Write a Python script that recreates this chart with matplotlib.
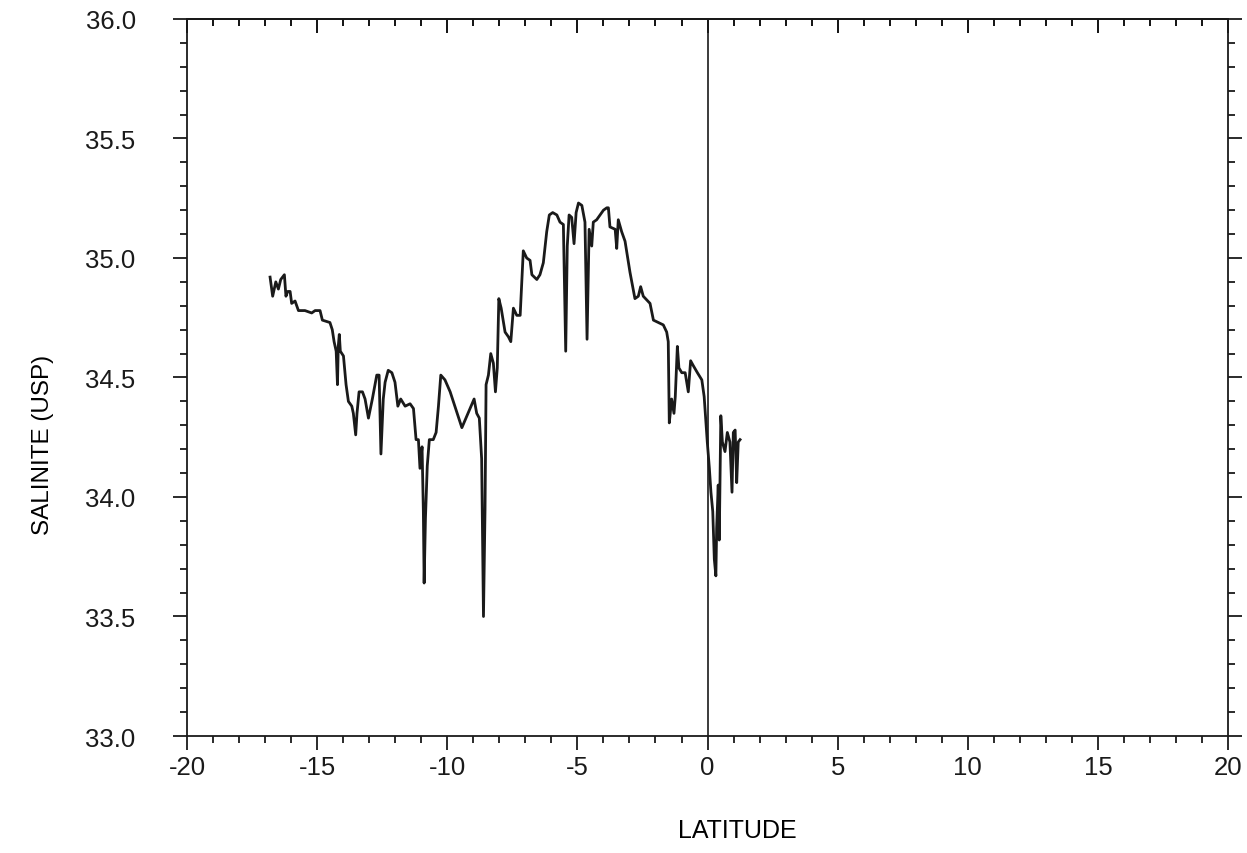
import numpy as np
import matplotlib
matplotlib.use("Agg")
import matplotlib.pyplot as plt
from matplotlib.ticker import MultipleLocator

plt.rcParams['font.family'] = ['Liberation Sans', 'DejaVu Sans']
plt.rcParams['axes.unicode_minus'] = False

# latitude / salinity trace
lat = [-16.81, -16.71, -16.59, -16.49, -16.40, -16.26, -16.20, -16.13, -16.04, -15.98,
       -15.85, -15.72, -15.47, -15.21, -15.08, -14.89, -14.80, -14.51, -14.42, -14.35,
       -14.27, -14.22, -14.19, -14.15, -14.11, -13.99, -13.89, -13.80, -13.67, -13.61,
       -13.52, -13.47, -13.39, -13.26, -13.16, -13.03, -12.88, -12.71, -12.62, -12.55,
       -12.46, -12.39, -12.27, -12.13, -12.01, -11.90, -11.79, -11.62, -11.43, -11.30,
       -11.20, -11.11, -11.05, -10.97, -10.92, -10.89, -10.84, -10.77, -10.69, -10.54,
       -10.43, -10.34, -10.25, -10.09, -9.89, -9.44, -8.97, -8.87, -8.77, -8.68,
       -8.61, -8.55, -8.51, -8.42, -8.33, -8.23, -8.15, -8.08, -8.02, -7.93,
       -7.78, -7.65, -7.56, -7.46, -7.33, -7.20, -7.08, -6.95, -6.82, -6.75,
       -6.56, -6.44, -6.31, -6.18, -6.08, -5.95, -5.79, -5.67, -5.54, -5.45,
       -5.39, -5.32, -5.22, -5.13, -5.05, -4.96, -4.83, -4.71, -4.63, -4.55,
       -4.45, -4.39, -4.26, -4.13, -4.00, -3.87, -3.81, -3.75, -3.55, -3.49,
       -3.43, -3.30, -3.17, -2.98, -2.79, -2.66, -2.57, -2.47, -2.21, -2.08,
       -1.89, -1.70, -1.57, -1.51, -1.47, -1.38, -1.29, -1.24, -1.16, -1.10,
       -0.99, -0.86, -0.74, -0.65, -0.55, -0.39, -0.22, -0.13, -0.06, -0.01,
       0.07, 0.13, 0.20, 0.26, 0.32, 0.35, 0.41, 0.45, 0.51, 0.57,
       0.67, 0.76, 0.86, 0.94, 0.99, 1.06, 1.12, 1.18, 1.25]
sal = [34.92, 34.84, 34.90, 34.87, 34.91, 34.93, 34.84, 34.86, 34.86, 34.81,
       34.82, 34.78, 34.78, 34.77, 34.78, 34.78, 34.74, 34.73, 34.70, 34.65,
       34.61, 34.47, 34.63, 34.68, 34.61, 34.59, 34.47, 34.40, 34.38, 34.35,
       34.26, 34.35, 34.44, 34.44, 34.41, 34.33, 34.41, 34.51, 34.51, 34.18,
       34.41, 34.48, 34.53, 34.52, 34.48, 34.38, 34.41, 34.38, 34.39, 34.37,
       34.24, 34.24, 34.12, 34.21, 33.94, 33.64, 33.91, 34.13, 34.24, 34.24,
       34.27, 34.38, 34.51, 34.49, 34.44, 34.29, 34.41, 34.35, 34.33, 34.16,
       33.50, 33.95, 34.47, 34.51, 34.60, 34.56, 34.44, 34.54, 34.83, 34.79,
       34.69, 34.67, 34.65, 34.79, 34.76, 34.76, 35.03, 35.00, 34.99, 34.93,
       34.91, 34.93, 34.98, 35.11, 35.18, 35.19, 35.18, 35.15, 35.14, 34.61,
       35.05, 35.18, 35.17, 35.06, 35.19, 35.23, 35.22, 35.15, 34.66, 35.12,
       35.05, 35.15, 35.16, 35.18, 35.20, 35.21, 35.21, 35.13, 35.12, 35.04,
       35.16, 35.11, 35.07, 34.94, 34.83, 34.84, 34.88, 34.84, 34.81, 34.74,
       34.73, 34.72, 34.69, 34.65, 34.31, 34.41, 34.35, 34.42, 34.63, 34.54,
       34.52, 34.52, 34.44, 34.57, 34.55, 34.52, 34.49, 34.42, 34.31, 34.23,
       34.12, 34.02, 33.94, 33.74, 33.67, 33.87, 34.05, 33.82, 34.34, 34.23,
       34.19, 34.27, 34.23, 34.02, 34.27, 34.28, 34.06, 34.23, 34.24]

fig = plt.figure(figsize=(12.47, 8.54), dpi=100)
ax = fig.add_axes([0.150, 0.137, 0.8348, 0.8396])

ax.plot(lat, sal, color='#1a1a1a', lw=2.0)
ax.axvline(0, color='#1a1a1a', lw=1.2)

ax.set_xlim(-20, 20)
ax.set_ylim(33, 36)
ax.xaxis.set_major_locator(MultipleLocator(5))
ax.xaxis.set_minor_locator(MultipleLocator(1))
ax.yaxis.set_major_locator(MultipleLocator(0.5))
ax.yaxis.set_minor_locator(MultipleLocator(0.1))
ax.yaxis.set_major_formatter(matplotlib.ticker.FormatStrFormatter('%.1f'))

for s in ax.spines.values():
    s.set_linewidth(1.3)
    s.set_color('#1a1a1a')

ax.tick_params(axis='both', which='both', direction='out', width=1.3, colors='#1a1a1a',
               labelsize=18.5, right=True)
ax.tick_params(axis='both', which='major', length=10)
ax.tick_params(axis='both', which='minor', length=5)
ax.tick_params(axis='y', which='major', pad=27)
ax.tick_params(axis='x', which='major', pad=4)

# top ticks point inward
top = ax.secondary_xaxis('top')
top.xaxis.set_major_locator(MultipleLocator(5))
top.xaxis.set_minor_locator(MultipleLocator(1))
top.tick_params(which='both', direction='in', width=1.3, labeltop=False)
top.tick_params(which='major', length=10)
top.tick_params(which='minor', length=5)
top.spines['top'].set_linewidth(1.3)

ax.set_xlabel('LATITUDE', fontsize=18)
ax.set_ylabel('SALINITE (USP)', fontsize=17.5)
ax.xaxis.set_label_coords(0.529, -0.115)
ax.yaxis.set_label_coords(-0.128, 0.407)

fig.savefig('out.png', dpi=100)
